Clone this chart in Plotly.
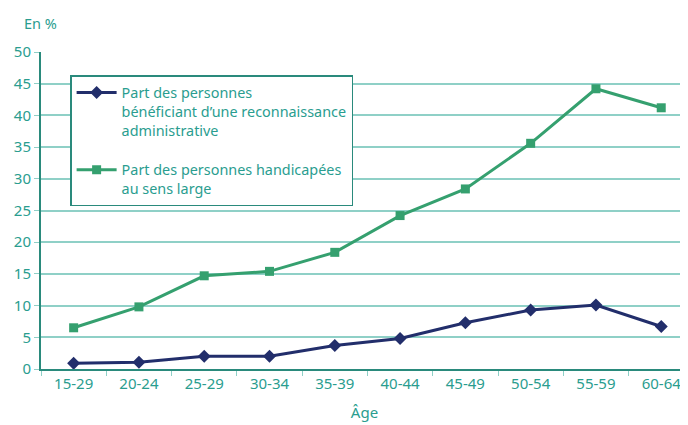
import plotly.graph_objects as go

categories = ["15-29", "20-24", "25-29", "30-34", "35-39", "40-44", "45-49", "50-54", "55-59", "60-64"]
admin_values = [0.9, 1.05, 2.0, 2.0, 3.7, 4.8, 7.3, 9.3, 10.1, 6.7]
large_values = [6.5, 9.8, 14.7, 15.4, 18.4, 24.2, 28.4, 35.6, 44.2, 41.2]
y_ticks = [0, 5, 10, 15, 20, 25, 30, 35, 40, 45, 50]

TEXT = "#2a9d8f"
GRID = "#8fd0c7"
AXIS = "#2a8a7c"
BLUE = "#222e6b"
GREEN = "#35a06f"
FONT = "Noto Sans"

fig = go.Figure()
fig.add_trace(go.Scatter(
    x=categories, y=admin_values, mode="lines+markers",
    name="Part des personnes<br>bénéficiant d’une reconnaissance<br>administrative",
    line=dict(color=BLUE, width=3), marker=dict(symbol="diamond", size=10, color=BLUE),
    legendgroup="a"))
fig.add_trace(go.Scatter(
    x=categories, y=large_values, mode="lines+markers",
    name="Part des personnes handicapées<br>au sens large",
    line=dict(color=GREEN, width=3), marker=dict(symbol="square", size=9, color=GREEN),
    legendgroup="b"))

fig.update_layout(
    width=688, height=425,
    margin=dict(l=33, r=8, t=44, b=64),
    paper_bgcolor="white", plot_bgcolor="white",
    font=dict(family=FONT, color=TEXT, size=14),
    showlegend=True,
    legend=dict(x=0.045, y=0.927, xanchor="left", yanchor="top",
                bordercolor=AXIS, borderwidth=1.5, bgcolor="white",
                font=dict(size=14.4, color=TEXT), traceorder="grouped",
                tracegroupgap=18, itemwidth=40, valign="top"),
    xaxis=dict(type="category", range=[-0.5, 9.41], showgrid=False, automargin=False,
               showline=True, linecolor=AXIS, linewidth=2,
               ticks="outside", tickson="boundaries", ticklen=5, tickcolor=GRID,
               tickfont=dict(size=15, color=TEXT),
               title=dict(text="Âge", font=dict(size=15, color=TEXT), standoff=15)),
    yaxis=dict(range=[0, 50], tickvals=y_ticks, showgrid=True, gridcolor=GRID, gridwidth=1.5,
               automargin=False,
               showline=True, linecolor=AXIS, linewidth=2, zeroline=False,
               ticks="outside", ticklen=5, tickcolor=GRID,
               tickfont=dict(size=15, color=TEXT)),
)
fig.add_annotation(text="En %", xref="paper", yref="paper", x=-0.029, y=1.055,
                   xanchor="left", yanchor="bottom", showarrow=False,
                   font=dict(size=14.5, color=TEXT))

fig.write_html("out.html")
